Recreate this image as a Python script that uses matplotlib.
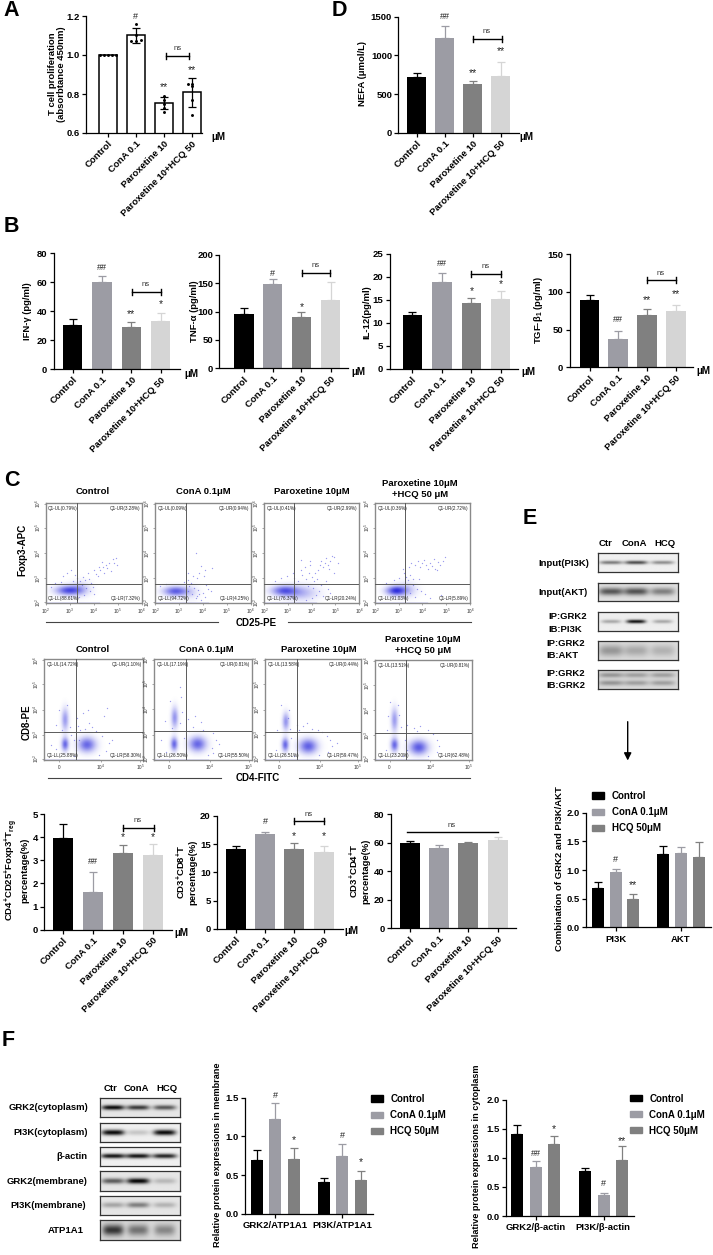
import numpy as np
import matplotlib
matplotlib.use("Agg")
import matplotlib.pyplot as plt
from matplotlib.patches import Patch

plt.rcParams['font.family'] = ['Liberation Sans', 'DejaVu Sans']
plt.rcParams['mathtext.fontset'] = 'custom'
plt.rcParams['mathtext.bf'] = 'Liberation Sans:bold'
plt.rcParams['mathtext.rm'] = 'Liberation Sans'
plt.rcParams['mathtext.default'] = 'bf'

W, H = 713, 1255
fig = plt.figure(figsize=(W / 100, H / 100), dpi=100)

# colours of the groups
BLACK, LILAC, GREY, PALE = '#000000', '#9c9ca4', '#808080', '#d5d5d5'
FOUR = [BLACK, LILAC, GREY, PALE]
THREE = [BLACK, LILAC, GREY]

groups = ['Control', 'ConA 0.1', 'Paroxetine 10', 'Paroxetine 10+HCQ 50']
legend_names = ['Control', 'ConA 0.1μM', 'HCQ 50μM']

# panel A
a_vals = [1.0, 1.10, 0.755, 0.808]
a_errs = [0.0, 0.038, 0.032, 0.073]
a_dots = [[1.0, 1.0, 1.0, 1.0, 1.0], [1.16, 1.105, 1.07, 1.07, 1.075],
          [0.79, 0.77, 0.75, 0.73, 0.71], [0.85, 0.85, 0.84, 0.77, 0.69]]
# panel D
d_vals = [715, 1220, 625, 728]
d_errs = [60, 163, 39, 190]
# panel B
ifn_vals = [30.3, 60, 29, 33]
ifn_errs = [4, 4, 3.2, 5.5]
tnf_vals = [95, 149, 90, 120]
tnf_errs = [12, 8, 10, 32]
il12_vals = [11.6, 18.8, 14.3, 15.1]
il12_errs = [0.8, 1.9, 1.0, 1.8]
tgf_vals = [89.5, 37, 69, 74.5]
tgf_errs = [7, 11, 9, 8.5]
# panel C bars
treg_vals = [3.95, 1.61, 3.33, 3.23]
treg_errs = [0.60, 0.89, 0.32, 0.46]
cd8_vals = [14.2, 16.7, 14.05, 13.65]
cd8_errs = [0.5, 0.5, 1.15, 1.05]
cd4_vals = [59.9, 56.6, 59.6, 61.8]
cd4_errs = [1.6, 1.6, 0.7, 2.1]
# panel E bars
e_vals = [0.69, 0.96, 0.50, 1.28, 1.29, 1.22]
e_errs = [0.095, 0.06, 0.087, 0.14, 0.105, 0.27]
# panel F bars
mem_vals = [0.694, 1.22, 0.707, 0.41, 0.75, 0.431]
mem_errs = [0.129, 0.207, 0.146, 0.047, 0.147, 0.121]
cyt_vals = [1.404, 0.842, 1.232, 0.774, 0.355, 0.957]
cyt_errs = [0.156, 0.098, 0.138, 0.046, 0.045, 0.246]

# flow cytometry quadrant percentages: UL, UR, LL, LR
foxp3_quads = [['0.79', '3.28', '88.61', '7.32'], ['0.09', '0.94', '94.72', '4.25'],
               ['0.41', '2.99', '76.37', '20.24'], ['0.36', '2.72', '91.03', '5.89']]
cd4_quads = [['14.72', '1.10', '25.88', '58.30'], ['17.19', '0.81', '26.50', '55.50'],
             ['13.58', '0.44', '26.51', '59.47'], ['13.51', '0.81', '23.20', '62.48']]

# dense populations: x, y, spread x, spread y, strength (fractions of the plot)
foxp3_blobs = [[(.236, .123, .09, .032, .75), (.36, .14, .07, .05, .22)],
               [(.215, .115, .085, .032, .7), (.37, .10, .06, .05, .13)],
               [(.21, .12, .09, .034, .65), (.38, .10, .12, .05, .32)],
               [(.22, .12, .07, .032, .85), (.34, .13, .07, .05, .22)]]
cd4_blobs = [[(.21, .40, .024, .075, .42), (.21, .155, .024, .045, .65), (.43, .15, .06, .05, .65)],
             [(.21, .415, .024, .07, .45), (.205, .155, .024, .045, .65), (.445, .155, .06, .05, .65)],
             [(.216, .38, .024, .06, .45), (.21, .15, .024, .045, .65), (.45, .135, .065, .05, .68)],
             [(.20, .40, .024, .08, .42), (.20, .15, .026, .045, .65), (.45, .125, .065, .05, .7)]]

# the sparser events, as (x, y) fractions
foxp3_dots = [
    [(.26, .33), (.30, .28), (.22, .30), (.33, .25), (.36, .22), (.39, .26), (.41, .23), (.44, .30),
     (.47, .20), (.38, .18), (.42, .15), (.46, .12), (.50, .09), (.40, .08), (.55, .36), (.50, .33),
     (.52, .29), (.57, .33), (.60, .36), (.61, .30), (.63, .38), (.59, .41), (.64, .35), (.66, .40),
     (.68, .32), (.71, .40), (.73, .45), (.74, .38), (.70, .44), (.54, .27), (.18, .27), (.28, .22),
     (.10, .20), (.06, .16), (.16, .21), (.45, .24), (.49, .16), (.35, .06)],
    [(.34, .23), (.38, .20), (.36, .17), (.41, .15), (.45, .13), (.50, .10), (.53, .18), (.44, .07),
     (.39, .09), (.43, .05), (.48, .03), (.52, .06), (.58, .12), (.35, .12), (.40, .27), (.34, .30),
     (.46, .30), (.48, .37), (.52, .33), (.51, .27), (.44, .25), (.43, .50), (.60, .35), (.30, .21),
     (.12, .19), (.05, .17), (.46, .09), (.55, .14)],
    [(.32, .25), (.36, .22), (.30, .30), (.40, .28), (.44, .24), (.47, .30), (.50, .26), (.43, .36),
     (.39, .33), (.54, .30), (.57, .33), (.59, .38), (.60, .42), (.62, .36), (.64, .40), (.65, .45),
     (.67, .38), (.70, .42), (.72, .47), (.68, .34), (.74, .30), (.56, .24), (.53, .22), (.74, .46),
     (.39, .43), (.48, .38), (.46, .17), (.52, .15), (.58, .12), (.55, .08), (.60, .18), (.62, .07),
     (.67, .14), (.50, .05), (.44, .03), (.18, .25), (.12, .22), (.24, .27), (.70, .10), (.48, .42),
     (.78, .40), (.65, .22)],
    [(.30, .34), (.31, .30), (.33, .26), (.37, .28), (.35, .23), (.40, .24), (.36, .36), (.38, .40),
     (.42, .38), (.45, .42), (.47, .36), (.50, .40), (.52, .43), (.54, .38), (.56, .34), (.58, .40),
     (.60, .37), (.62, .44), (.63, .34), (.65, .33), (.68, .38), (.72, .42), (.74, .46), (.66, .41),
     (.40, .18), (.44, .14), (.48, .12), (.42, .06), (.53, .09), (.58, .05), (.70, .08), (.25, .25),
     (.20, .23), (.12, .20), (.46, .24), (.37, .10)],
]
cd4_dots = [
    [(.15, .50), (.23, .55), (.18, .30), (.26, .33), (.27, .25), (.12, .35), (.34, .34), (.41, .31),
     (.45, .37), (.63, .52), (.60, .44), (.44, .50), (.39, .47), (.33, .42), (.52, .29), (.58, .24),
     (.65, .17), (.62, .09), (.68, .20), (.12, .11), (.32, .10), (.35, .20), (.30, .20), (.55, .05),
     (.30, .04), (.07, .15), (.48, .33), (.36, .30)],
    [(.16, .58), (.27, .62), (.26, .72), (.18, .32), (.26, .36), (.11, .38), (.35, .40), (.28, .47),
     (.40, .33), (.48, .37), (.50, .30), (.60, .27), (.63, .20), (.66, .16), (.60, .07), (.33, .08),
     (.31, .22), (.12, .08), (.55, .05), (.07, .20), (.36, .29), (.42, .43), (.59, .12)],
    [(.17, .55), (.25, .50), (.13, .30), (.26, .31), (.33, .35), (.40, .34), (.44, .37), (.49, .31),
     (.55, .30), (.60, .28), (.65, .24), (.68, .20), (.70, .14), (.66, .08), (.33, .10), (.30, .04),
     (.12, .10), (.27, .22), (.56, .05), (.75, .17), (.36, .30), (.24, .42)],
    [(.16, .58), (.24, .55), (.25, .45), (.13, .44), (.27, .33), (.12, .30), (.33, .35), (.40, .32),
     (.47, .34), (.55, .30), (.60, .26), (.64, .20), (.66, .14), (.64, .08), (.33, .10), (.29, .04),
     (.11, .10), (.31, .20), (.55, .04), (.32, .31), (.43, .29)],
]

# western blots: band strength in each lane
e_blots = [[.50, .70, .42], [.60, .62, .42], [.30, .95, .30], [.30, .22, .18], [.42, .36, .36]]
f_blots = [[.95, .75, .62], [1.0, .18, 1.0], [.95, .95, .88], [.60, .98, .20], [.28, .45, .22], [.72, .45, .36]]


def px_axes(x0, y_top, x1, y_bot):
    return fig.add_axes([x0 / W, 1 - y_bot / H, (x1 - x0) / W, (y_bot - y_top) / H])


def label(x, y, s, size=6.8, weight='bold', ha='center', va='center', **kw):
    return fig.text(x / W, 1 - y / H, s, fontsize=size, fontweight=weight, ha=ha, va=va, **kw)


def fline(x0, y0, x1, y1, lw=0.9, color='black'):
    fig.add_artist(plt.Line2D([x0 / W, x1 / W], [1 - y0 / H, 1 - y1 / H], color=color, lw=lw))


def bracket(x0, x1, y, text_x, text_y, size=5.5, caps=True):
    fline(x0, y, x1, y, lw=1.0)
    if caps:
        fline(x0, y - 3, x0, y + 3, lw=1.0)
        fline(x1, y - 3, x1, y + 3, lw=1.0)
    label(text_x, text_y, 'ns', size=size, weight='normal', color='#333333')


def marks(items, size=6.5):
    # significance signs, (x pixel, y pixel, sign)
    for x, y, s in items:
        label(x, y, s, size=size if s[0] == '#' else size + 1, weight='normal', color='#222222')


def bar_panel(box, centres, bar_w, vals, errs, colors, ylim, yticks, ticklabels=None, outline=False,
              rotation=45, tick_size=6.8, label_size=6.8):
    x0, y_top, x1, y_bot = box
    ax = px_axes(x0, y_top, x1, y_bot)
    ax.patch.set_alpha(0)
    for c, v, e, col in zip(centres, vals, errs, colors):
        if outline:
            ax.bar(c, v, width=bar_w, facecolor='white', edgecolor='black', linewidth=1.1, zorder=2)
            ecol = 'black'
        else:
            ax.bar(c, v, width=bar_w, color=col, zorder=2)
            ecol = col
        if e > 0:
            ax.errorbar(c, v, yerr=[[e if outline else 0], [e]], fmt='none', ecolor=ecol, elinewidth=0.9,
                        capsize=2.6, capthick=0.9, zorder=3)
    ax.set_xlim(x0, x1)
    ax.set_ylim(*ylim)
    ax.set_yticks(yticks)
    ax.spines['top'].set_visible(False)
    ax.spines['right'].set_visible(False)
    ax.spines['left'].set_linewidth(0.9)
    ax.spines['bottom'].set_linewidth(0.9)
    ax.tick_params(axis='both', width=0.9, length=3, pad=1.5)
    for t in ax.get_yticklabels():
        t.set_fontsize(tick_size)
        t.set_fontweight('bold')
    if ticklabels is not None:
        ax.set_xticks(centres)
        ax.set_xticklabels(ticklabels, rotation=rotation, ha='right', rotation_mode='anchor',
                           fontsize=label_size, fontweight='bold')
    return ax


def draw_blot(box, bands, x_lanes, sig_x, sig_y, bg=0.92, rows=(0.5,), tilt=0.0):
    ax = px_axes(*box)
    xx, yy = np.meshgrid(np.linspace(0, 1, 160), np.linspace(0, 1, 50))
    img = np.full(xx.shape, bg)
    for lane, strength in zip(x_lanes, bands):
        for r in rows:
            # band shape only, its strength comes from the list above
            curve = r + tilt * ((xx - lane) / sig_x) ** 2 * 0.02
            img -= strength * 0.9 * np.exp(-((xx - lane) / sig_x) ** 4 - ((yy - curve) / sig_y) ** 2) / len(rows) ** 0.5
    ax.imshow(np.clip(img, 0.02, 1), cmap='gray', vmin=0, vmax=1, aspect='auto', extent=(0, 1, 1, 0))
    ax.set_xticks([])
    ax.set_yticks([])
    for s in ax.spines.values():
        s.set_linewidth(0.9)
        s.set_color('#333333')
    return ax


def flow_panel(box, vert, horiz, quads, blobs, dots, xticks, xticklabels):
    ax = px_axes(*box)
    xx, yy = np.meshgrid(np.linspace(0, 1, 200), np.linspace(0, 1, 200))
    dens = np.zeros(xx.shape)
    for cx, cy, sx, sy, amp in blobs:
        dens += amp * np.exp(-((xx - cx) / sx) ** 2 / 2 - ((yy - cy) / sy) ** 2 / 2)
    rgba = np.zeros(xx.shape + (4,))
    rgba[..., 0], rgba[..., 1], rgba[..., 2] = 0.08, 0.08, 0.85
    rgba[..., 3] = np.clip(dens, 0, 0.95)
    ax.imshow(rgba, extent=(0, 1, 0, 1), origin='lower', aspect='auto', zorder=1)
    xs, ys = zip(*dots)
    ax.scatter(xs, ys, s=0.9, color='#4a4ae0', alpha=0.55, linewidths=0, zorder=2)
    ax.plot([0, 0.55], [0.004, 0.004], color='#1818d0', lw=0.9, zorder=2)
    ax.axvline(vert, color='#5a5a5a', lw=0.7, zorder=3)
    ax.axhline(horiz, color='#5a5a5a', lw=0.7, zorder=3)
    ax.set_xlim(0, 1)
    ax.set_ylim(0, 1)
    for s in ax.spines.values():
        s.set_color('#8a8a8a')
        s.set_linewidth(1.0)
    ax.set_xticks(xticks)
    ax.set_xticklabels(xticklabels, fontsize=3.4, color='#333333')
    ax.set_yticks([0.01, 0.25, 0.5, 0.75, 0.99])
    ax.set_yticklabels([f'$\\mathregular{{10^{{{i}}}}}$' for i in range(2, 7)], fontsize=3.4, rotation=90,
                       va='center', color='#333333')
    ax.tick_params(axis='both', length=1.5, width=0.4, pad=0.8, color='#666666')
    names = ['UL', 'UR', 'LL', 'LR']
    spots = [(0.025, 0.945, 'left'), (0.985, 0.945, 'right'), (0.025, 0.045, 'left'), (0.985, 0.045, 'right')]
    for n, q, (x, y, ha) in zip(names, quads, spots):
        ax.text(x, y, f'Q1-{n}({q}%)', fontsize=3.3, ha=ha, va='center', color='#222222', zorder=4)
    return ax


def add_legend(ax, x, y):
    handles = [Patch(color=c, label=n) for c, n in zip(THREE, legend_names)]
    leg = ax.legend(handles=handles, loc='upper left', bbox_to_anchor=(x / W, 1 - y / H),
                    bbox_transform=fig.transFigure, frameon=False, borderpad=0, borderaxespad=0,
                    fontsize=7, handlelength=1.25, handleheight=0.6, handletextpad=0.75, labelspacing=0.62)
    for t in leg.get_texts():
        t.set_fontweight('bold')


# panel letters
for x, y, s in [(3, 11, 'A'), (332, 11, 'D'), (4, 226.5, 'B'), (4, 481, 'C'), (523, 518, 'E'), (2, 1041, 'F')]:
    label(x, y, s, size=15.5, ha='left')

# ---- A
ax = bar_panel((86, 16, 202, 133), [108, 135.7, 163.7, 191.7], 18, a_vals, a_errs, FOUR, (0.6, 1.2),
               [0.6, 0.8, 1.0, 1.2], groups, outline=True)
offs = [[-8, -4, 0, 4, 8], [0, 0, -5, 0, 5], [0, 0, 0, 0, 0], [-4, 0, 0, 0, 0]]
for c, ys, dx in zip([108, 135.7, 163.7, 191.7], a_dots, offs):
    ax.scatter(np.array(dx) + c, ys, s=4.5, color='black', zorder=4, linewidths=0, clip_on=False)
label(56.7, 74, 'T cell proliferation\n(absorbtance 450nm)', rotation=90, size=6.8, linespacing=1.05)
label(218, 136.7, 'μM', size=7)
marks([(135.7, 16.5, '#'), (163.7, 87.5, '**'), (191.7, 70, '**')])
bracket(165.7, 189.3, 55.7, 177.5, 48)

# ---- D
bar_panel((398.3, 16.7, 519, 132.7), [416.7, 444.7, 472.7, 500.7], 18.5, d_vals, d_errs, FOUR, (0, 1500),
          [0, 500, 1000, 1500], groups)
label(362.7, 74, 'NEFA (μmol/L)', rotation=90)
label(526.7, 136.7, 'μM', size=7)
marks([(444.7, 16.7, '##'), (472.7, 73, '**'), (500.7, 51, '**')])
bracket(472.7, 501.7, 39.3, 486.7, 31.7)

# ---- B
bar_panel((53.6, 253.3, 179.5, 369), [72.7, 101.8, 131.4, 160.5], 19.5, ifn_vals, ifn_errs, FOUR, (0, 80),
          [0, 20, 40, 60, 80], groups)
label(27, 311, 'IFN-γ (pg/ml)', rotation=90)
label(191, 374.3, 'μM', size=7)
marks([(101.8, 267.7, '##'), (131.4, 314.5, '**'), (160.5, 304, '*')])
bracket(131.8, 160.9, 292.3, 146, 284.3)

bar_panel((219.5, 255, 347.7, 368.3), [244, 272.7, 301.4, 330.5], 19.5, tnf_vals, tnf_errs, FOUR, (0, 200),
          [0, 50, 100, 150, 200], groups)
label(194.5, 311, 'TNF-α (pg/ml)', rotation=90)
label(358, 372.3, 'μM', size=7)
marks([(272.7, 273.3, '#'), (301.4, 307, '*')])
bracket(301.8, 330, 273, 315.5, 265.7)

bar_panel((389.5, 253.7, 518, 368.7), [412.3, 441.8, 471.4, 500.5], 19.5, il12_vals, il12_errs, FOUR, (0, 25),
          [0, 5, 10, 15, 20, 25], groups)
label(367, 311.7, 'IL-12(pg/ml)', rotation=90)
label(528.6, 372.3, 'μM', size=7)
marks([(441.8, 263.3, '##'), (471.4, 291, '*'), (500.5, 284, '*')])
bracket(471.4, 500.5, 274.3, 485.5, 266.7)

bar_panel((569.5, 254.3, 693, 367.3), [589.5, 618, 646.8, 676], 19.5, tgf_vals, tgf_errs, FOUR, (0, 150),
          [0, 50, 100, 150], groups)
label(538.6, 310, 'TGF-β$_{1}$ (pg/ml)', rotation=90)
label(703, 370.7, 'μM', size=7)
marks([(618, 320, '##'), (646.8, 300.5, '**'), (676, 294, '**')])
bracket(646.8, 676, 280.3, 661, 273.3)

# ---- C flow plots
row1_boxes = [(45.7, 502.7, 141.7, 603.3), (155, 502.7, 250.7, 603.3), (264, 502.7, 359, 603.3), (375, 502.7, 470, 603.3)]
row2_boxes = [(44.3, 659.3, 143.3, 760), (154.3, 658.5, 251.7, 760), (265, 659.3, 360.7, 760), (375, 660, 471.7, 760)]
row1_gates = [(.33, .195), (.325, .19), (.32, .19), (.32, .19)]
row2_gates = [(.323, .28), (.325, .29), (.334, .275), (.32, .27)]
log_ticks = [0.0, 0.25, 0.5, 0.75, 1.0]
log_labels = [f'$\\mathregular{{10^{{{i}}}}}$' for i in range(2, 7)]
biex_ticks = [0.15, 0.57, 0.97]
biex_labels = ['$\\mathregular{0}$', '$\\mathregular{10^{4}}$', '$\\mathregular{10^{5}}$']

for i in range(4):
    flow_panel(row1_boxes[i], *row1_gates[i], foxp3_quads[i], foxp3_blobs[i], foxp3_dots[i], log_ticks, log_labels)
    flow_panel(row2_boxes[i], *row2_gates[i], cd4_quads[i], cd4_blobs[i], cd4_dots[i], biex_ticks, biex_labels)

title_size = 6.8
label(93, 491.7, 'Control', size=title_size)
label(203.7, 491.7, 'ConA 0.1μM', size=title_size)
label(311.7, 491.7, 'Paroxetine 10μM', size=title_size)
label(420, 489, 'Paroxetine 10μM\n+HCQ 50 μM', size=title_size, linespacing=1.15)
label(92.7, 650, 'Control', size=title_size)
label(206.7, 650, 'ConA 0.1μM', size=title_size)
label(319, 649, 'Paroxetine 10μM', size=title_size)
label(423, 645, 'Paroxetine 10μM\n+HCQ 50 μM', size=title_size, linespacing=1.15)

label(22.7, 550, 'Foxp3-APC', rotation=90, size=7)
label(26.7, 721.7, 'CD8-PE', rotation=90, size=7)
label(256, 623.5, 'CD25-PE', size=7)
label(258, 778, 'CD4-FITC', size=7)
fline(45.7, 622, 218, 622, lw=0.8, color='#444444')
fline(288, 622, 471, 622, lw=0.8, color='#444444')
fline(47.7, 778.3, 220.7, 778.3, lw=0.8, color='#444444')
fline(299, 778.3, 470, 778.3, lw=0.8, color='#444444')

# ---- C bars
bar_panel((44, 814, 171.7, 929.7), [63.3, 93.3, 123, 153], 20, treg_vals, treg_errs, FOUR, (0, 5),
          [0, 1, 2, 3, 4, 5], groups)
label(15.7, 870, 'CD4$^{+}$CD25$^{+}$Foxp3$^{+}$T$_{reg}$\npercentage(%)', rotation=90, size=6.8, linespacing=1.1)
label(181, 933, 'μM', size=7)
marks([(93.3, 861, '##'), (123, 837, '*'), (153, 837, '*')])
bracket(122.7, 153.7, 827.7, 137.7, 820.3)

bar_panel((217, 815.7, 342.7, 929), [236, 265.3, 294.3, 323.7], 20, cd8_vals, cd8_errs, FOUR, (0, 20),
          [0, 5, 10, 15, 20], groups)
label(186, 872.3, 'CD3$^{+}$CD8$^{+}$T\npercentage(%)', rotation=90, size=6.8, linespacing=1.1)
label(351.7, 931, 'μM', size=7)
marks([(265.3, 821.7, '#'), (294.3, 836.5, '*'), (323.7, 836.5, '*')])
bracket(294.3, 323.7, 821, 308.7, 814.3)

bar_panel((390.7, 814.3, 516, 928.3), [409.7, 439, 468.3, 497.7], 20, cd4_vals, cd4_errs, FOUR, (0, 80),
          [0, 20, 40, 60, 80], groups)
label(359.3, 871, 'CD3$^{+}$CD4$^{+}$T\npercentage(%)', rotation=90, size=6.8, linespacing=1.1)
bracket(406.7, 498, 832, 452, 825.7, caps=False)

# ---- E blots
e_lanes = [0.16, 0.47, 0.8]
draw_blot((597.7, 553.3, 678, 572), e_blots[0], e_lanes, 0.14, 0.10, bg=0.94)
draw_blot((597.7, 582.7, 678, 601.3), e_blots[1], e_lanes, 0.15, 0.20, bg=0.88)
draw_blot((597.7, 612, 678, 630.7), e_blots[2], e_lanes, 0.12, 0.10, bg=0.93)
draw_blot((597.7, 641, 678, 659.7), e_blots[3], e_lanes, 0.15, 0.30, bg=0.86)
draw_blot((597.7, 670.3, 678, 689.3), e_blots[4], e_lanes, 0.15, 0.13, bg=0.85, rows=(0.3, 0.7))

label(605.7, 543.3, 'Ctr', size=6.8)
label(634.3, 543.3, 'ConA', size=6.8)
label(665, 543.3, 'HCQ', size=6.8)
label(564.3, 563.5, 'Input(PI3K)', size=6.8)
label(562.7, 592.6, 'Input(AKT)', size=6.8)
label(548.3, 616.7, 'IP:GRK2', size=6.8, ha='left')
label(548.3, 629.3, 'IB:PI3K', size=6.8, ha='left')
label(546.7, 643.3, 'IP:GRK2', size=6.8, ha='left')
label(546.7, 655.7, 'IB:AKT', size=6.8, ha='left')
label(546.7, 673, 'IP:GRK2', size=6.8, ha='left')
label(546.7, 685.3, 'IB:GRK2', size=6.8, ha='left')
fig.add_artist(matplotlib.patches.FancyArrowPatch((627.7 / W, 1 - 721.7 / H), (627.7 / W, 1 - 760.5 / H),
                                                  transform=fig.transFigure, arrowstyle='-|>', mutation_scale=11,
                                                  lw=1.0, color='black', shrinkA=0, shrinkB=0))

# ---- E bars
e_pos = [597.7, 615.7, 633.3, 663, 680.7, 698.7]
ax = bar_panel((586, 812.7, 711, 927.3), e_pos, 12, e_vals, e_errs, THREE * 2, (0, 2),
               [0, 0.5, 1.0, 1.5, 2.0])
ax.set_xticks([615.7, 680.7])
ax.set_xticklabels([])
label(615.7, 939, 'PI3K', size=6.8)
label(680.7, 939, 'AKT', size=6.8)
label(559.3, 869, 'Combination of GRK2 and PI3K/AKT', rotation=90, size=6.8)
add_legend(ax, 592.3, 791)
marks([(615.7, 859, '#'), (633.3, 885.5, '**')])

# ---- F blots
f_lanes = [0.16, 0.47, 0.8]
draw_blot((100, 1098.3, 180.3, 1117.3), f_blots[0], f_lanes, 0.14, 0.13, bg=0.9)
draw_blot((100, 1122.7, 180.3, 1141.7), f_blots[1], f_lanes, 0.14, 0.15, bg=0.94)
draw_blot((100, 1147, 180.3, 1166.3), f_blots[2], f_lanes, 0.15, 0.12, bg=0.94)
draw_blot((100, 1171.3, 180.3, 1190.7), f_blots[3], f_lanes, 0.14, 0.14, bg=0.9)
draw_blot((100, 1196, 180.3, 1215.3), f_blots[4], f_lanes, 0.14, 0.14, bg=0.9)
draw_blot((100, 1220.3, 180.3, 1240), f_blots[5], f_lanes, 0.13, 0.28, bg=0.85)

label(110.7, 1088.3, 'Ctr', size=6.8)
label(136.7, 1088.3, 'ConA', size=6.8)
label(167.3, 1088.3, 'HCQ', size=6.8)
label(48.3, 1107.3, 'GRK2(cytoplasm)', size=6.8)
label(50.7, 1132.7, 'PI3K(cytoplasm)', size=6.8)
label(72.3, 1156.7, 'β-actin', size=6.8)
label(47.3, 1181, 'GRK2(membrane)', size=6.8)
label(48.3, 1205.7, 'PI3K(membrane)', size=6.8)
label(66, 1230.3, 'ATP1A1', size=6.8)

# ---- F bars
mem_pos = [256.7, 275.3, 293.7, 324, 342.3, 361]
ax = bar_panel((244.7, 1097.7, 373.3, 1213.7), mem_pos, 12.3, mem_vals, mem_errs, THREE * 2, (0, 1.5),
               [0, 0.5, 1.0, 1.5])
ax.set_xticks([275.3, 342.3])
ax.set_xticklabels([])
label(275, 1225.7, 'GRK2/ATP1A1', size=6.8)
label(342.3, 1225.7, 'PI3K/ATP1A1', size=6.8)
label(217.3, 1155, 'Relative protein expressions in membrane', rotation=90, size=6.6)
add_legend(ax, 370.7, 1094)
marks([(275.3, 1095.5, '#'), (293.7, 1140.5, '*'), (342.3, 1135, '#'), (361, 1162.5, '*')])

cyt_pos = [517.3, 535.7, 554.3, 585.3, 603.7, 622]
ax = bar_panel((505.7, 1099.7, 634.3, 1216), cyt_pos, 12.3, cyt_vals, cyt_errs, THREE * 2, (0, 2),
               [0, 0.5, 1.0, 1.5, 2.0])
ax.set_xticks([535.7, 603.7])
ax.set_xticklabels([])
label(535.7, 1228, 'GRK2/β-actin', size=6.8)
label(603.3, 1228, 'PI3K/β-actin', size=6.8)
label(476.7, 1156.7, 'Relative protein expressions in cytoplasm', rotation=90, size=6.6)
add_legend(ax, 630, 1093.5)
marks([(535.7, 1154, '##'), (554.3, 1129.5, '*'), (603.7, 1183, '#'), (622, 1141, '**')])

fig.savefig('out.png', dpi=100)
